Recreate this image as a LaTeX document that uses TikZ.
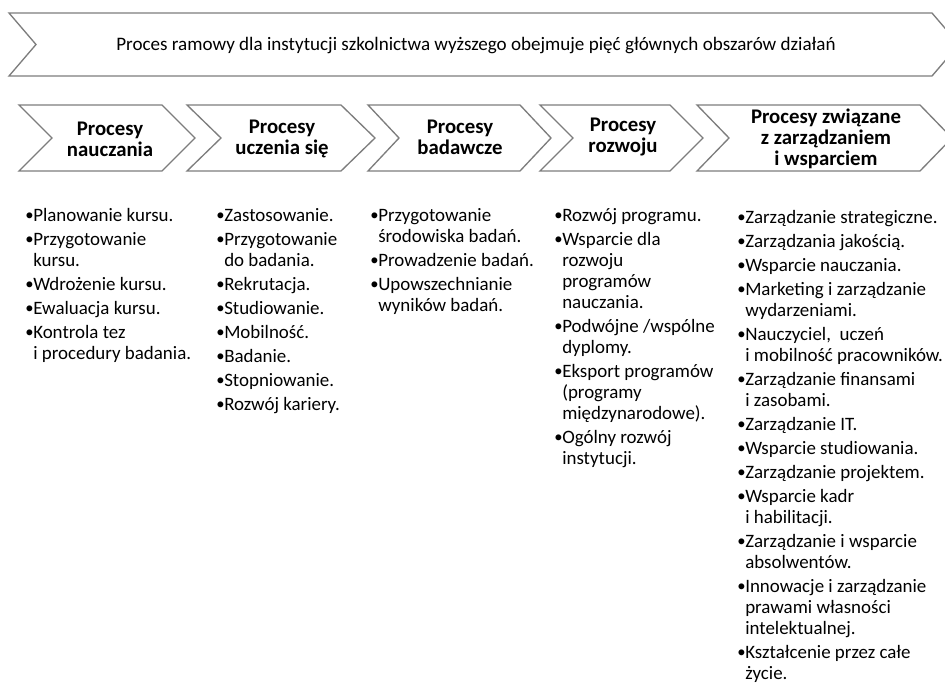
\documentclass[tikz,border=0pt]{standalone}
\usepackage{fontspec}
\usepackage{graphicx}
\setmainfont{Carlito}
\definecolor{chevgray}{RGB}{125,125,125}
% small list bullet with a fixed advance; continuation lines are indented by the same amount
\newcommand\bul{\makebox[6pt][l]{\raisebox{0.05ex}{\scalebox{0.88}{\textbullet}}}}
\newcommand\hng{\hspace*{6pt}}
\newcommand\gap{\\[2.25pt]}
% chevron: left x, right tip x, top y, bottom y, depth
\newcommand\chevron[5]{%
  \draw[chev] (#1,#3) -- ({#2-#5},#3) -- (#2,{(#3+#4)/2}) -- ({#2-#5},#4)
    -- (#1,#4) -- ({#1+#5},{(#3+#4)/2}) -- cycle;}
\tikzset{
  chev/.style={draw=chevgray, line width=1pt, fill=white, line join=miter},
  bannertxt/.style={font=\fontsize{14.3pt}{17pt}\selectfont, inner sep=0},
  headtxt/.style={font=\fontsize{15.6pt}{16pt}\selectfont\bfseries, align=center, inner sep=0},
  listtxt/.style={font=\fontsize{14.2pt}{15.75pt}\selectfont, align=left, inner sep=0, anchor=north west}
}
\begin{document}
\begin{tikzpicture}[x=0.75pt, y=-0.75pt]
\useasboundingbox (0,0) rectangle (945,682);
\clip (0,0) rectangle (945,682);

% banner across the top
\chevron{9}{959}{13}{76}{27}
\node[bannertxt] (banner) at (476,46) {Proces ramowy dla instytucji szkolnictwa wyższego obejmuje pięć głównych obszarów działań};

% row of five process chevrons
\chevron{19}{195}{105}{171}{33}
\chevron{187}{375}{105}{171}{34}
\chevron{368}{551}{105}{171}{31}
\chevron{540}{703}{105}{171}{33}
\chevron{697}{952}{105}{171}{32}

\node[headtxt] (h1) at (110,139) {Procesy\\nauczania};
\node[headtxt] (h2) at (282,139) {Procesy\\uczenia się};
\node[headtxt] (h3) at (460,137) {Procesy\\badawcze};
\node[headtxt] (h4) at (623,137) {Procesy\\rozwoju};
\node[headtxt] (h5) at (826,139) {Procesy związane\\z zarządzaniem\\i wsparciem};

% bullet lists under each chevron
\node[listtxt] (l1) at (25,208) {%
\bul Planowanie kursu.\gap
\bul Przygotowanie\\ \hng kursu.\gap
\bul Wdrożenie kursu.\gap
\bul Ewaluacja kursu.\gap
\bul Kontrola tez\\ \hng i procedury badania.};

\node[listtxt] (l2) at (216,208) {%
\bul Zastosowanie.\gap
\bul Przygotowanie\\ \hng do badania.\gap
\bul Rekrutacja.\gap
\bul Studiowanie.\gap
\bul Mobilność.\gap
\bul Badanie.\gap
\bul Stopniowanie.\gap
\bul Rozwój kariery.};

\node[listtxt] (l3) at (370,208) {%
\bul Przygotowanie\\ \hng środowiska badań.\gap
\bul Prowadzenie badań.\gap
\bul Upowszechnianie\\ \hng wyników badań.};

\node[listtxt] (l4) at (554,208) {%
\bul Rozwój programu.\gap
\bul Wsparcie dla\\ \hng rozwoju\\ \hng programów\\ \hng nauczania.\gap
\bul Podwójne /wspólne\\ \hng dyplomy.\gap
\bul Eksport programów\\ \hng (programy\\ \hng międzynarodowe).\gap
\bul Ogólny rozwój\\ \hng instytucji.};

\node[listtxt] (l5) at (737,210) {%
\bul Zarządzanie strategiczne.\gap
\bul Zarządzania jakością.\gap
\bul Wsparcie nauczania.\gap
\bul Marketing i zarządzanie\\ \hng wydarzeniami.\gap
\bul Nauczyciel,\ \ uczeń\\ \hng i mobilność pracowników.\gap
\bul Zarządzanie finansami\\ \hng i zasobami.\gap
\bul Zarządzanie IT.\gap
\bul Wsparcie studiowania.\gap
\bul Zarządzanie projektem.\gap
\bul Wsparcie kadr\\ \hng i habilitacji.\gap
\bul Zarządzanie i wsparcie\\ \hng absolwentów.\gap
\bul Innowacje i zarządzanie\\ \hng prawami własności\\ \hng intelektualnej.\gap
\bul Kształcenie przez całe\\ \hng życie.};
\end{tikzpicture}
\end{document}
